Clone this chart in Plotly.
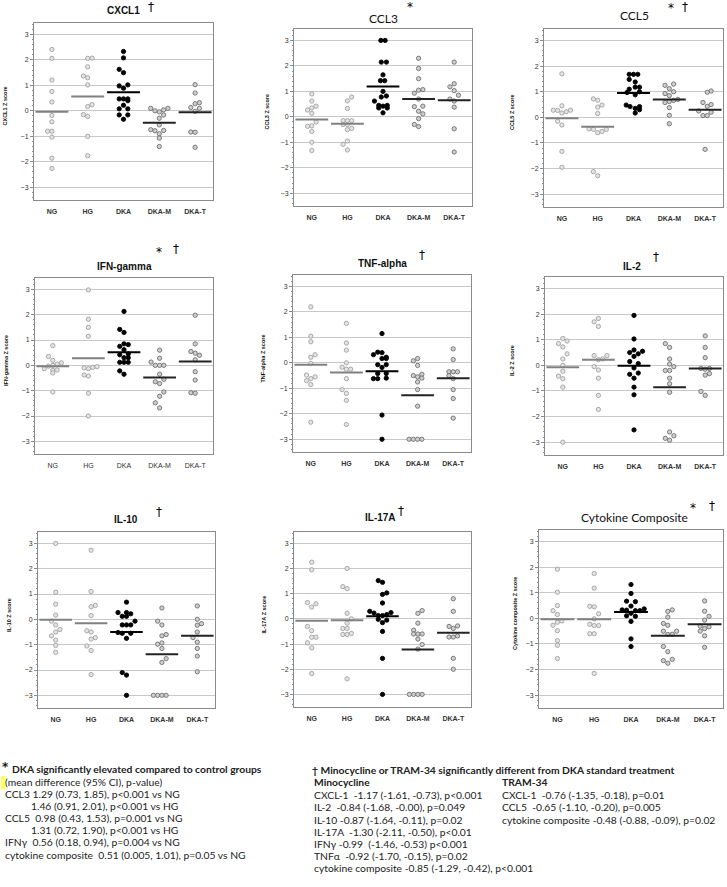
import plotly.graph_objects as go

W, H = 727, 887
groups = ["NG", "HG", "DKA", "DKA-M", "DKA-T"]
y_tick_vals = [-3, -2, -1, 0, 1, 2, 3]

# ---------------- data (Z scores) ----------------
cxcl1_vals = [
    [2.41, 2.06, 1.21, 0.76, 0.35, -0.18, -0.43, -0.80, -0.80, -1.03, -1.86, -2.26],
    [2.06, 2.07, 1.73, 1.37, 1.30, 1.02, 0.24, 0.17, -0.15, -0.22, -1.00, -1.76],
    [2.33, 2.08, 1.63, 1.50, 1.02, 0.98, 0.89, 0.47, 0.47, 0.47, 0.40, 0.22, 0.08, 0.08, -0.16, -0.16, -0.33],
    [0.10, 0.00, -0.04, 0.04, 0.10, -0.16, -0.29, -0.55, -0.74, -0.78, -0.90, -0.77, -1.07, -1.40],
    [1.03, 0.70, 0.32, 0.28, 0.13, 0.10, -0.02, -0.83, -0.84, -1.43],
]
cxcl1_slots = [
    [0, 0, 0, 0, 0, 0, 0, -1, 0, 0, 0, 0],
    [0, 1, 0, -1, 0, 0, 1, 0, -1, 0, 0, 0],
    [0, 0, -1, 0, 1, -1, 0, -1, 0, 1, 1, 0, -1, 1, -1, 1, 0],
    [-2, -1, 0, 1, 2, 1, 0, 0, -2, -1, 0, 1, 0, 0],
    [0, 0, 1, 0, -1, 1, 0, -1, 0, 0],
]
cxcl1_means = [-0.03, 0.56, 0.73, -0.47, -0.05]

ccl3_vals = [
    [0.90, 0.62, 0.42, 0.35, 0.27, 0.14, -0.20, -0.37, -0.35, -0.57, -1.00, -1.32],
    [0.78, 0.63, 0.33, -0.15, -0.15, -0.15, -0.30, -0.30, -0.45, -0.50, -0.95, -1.08, -1.30],
    [3.00, 3.00, 2.15, 2.15, 1.65, 1.42, 1.42, 1.00, 0.82, 0.78, 0.62, 0.45, 0.42, 0.35, 0.35, 0.45, 0.16],
    [2.30, 1.90, 1.50, 1.05, 1.07, 0.93, 0.70, 0.40, 0.42, 0.22, 0.12, -0.07, -0.30, -0.38],
    [2.15, 1.30, 1.18, 1.03, 0.85, 0.70, 0.62, 0.38, -0.47, -1.38],
]
ccl3_slots = [
    [0, 0, 1, 0, -1, 0, 1, -1, 0, 0, 0, 0],
    [1, 0, 0, -1, 0, 1, -1, 0, 1, 0, 0, -1, 0],
    [-0.5, 0.5, -0.4, 0.8, 0, -0.6, 0.4, 0, 0.8, -0.4, -2, -1, 0, -1, 1, 1, 0],
    [0, 0, 0, 0, 1, -1, 0, -1, 1, 0, 1, 0, -1, 0],
    [0, 0, -1, 0, 1, -1, 0, 0, 0, 0],
]
ccl3_means = [-0.10, -0.27, 1.19, 0.70, 0.65]

ccl5_vals = [
    [1.70, 0.45, 0.28, 0.27, 0.28, 0.22, 0.17, -0.15, -0.30, -1.33, -1.95],
    [0.72, 0.67, 0.48, 0.40, 0.15, -0.45, -0.47, -0.60, -0.55, -0.47, -2.12, -2.28],
    [1.68, 1.68, 1.68, 1.48, 1.38, 1.10, 1.18, 1.18, 1.00, 0.97, 0.88, 0.48, 0.42, 0.35, 0.42, 0.30, 0.17],
    [1.25, 1.30, 1.12, 1.00, 0.93, 0.85, 0.70, 0.66, 0.62, 0.58, 0.38, 0.08, -0.25],
    [1.03, 0.98, 0.58, 0.50, 0.43, 0.25, 0.20, 0.07, 0.07, -1.25],
]
ccl5_slots = [
    [0, 0, -2, -1, 2, 1, 0, -1, 0, 0, 0],
    [-1, 0, 1, 0, 0, -2, -1, 0, 1, 2, -1, 0],
    [-1, 0, 1, -1, 0.4, -1, 0.4, 1.4, 1.4, -1.5, 0.4, -1.7, -0.8, 0.4, 1.4, 1.4, 0.4],
    [-1, 1, 0, 1, -1, 0, 2, 1, 0, -1, 0, 0, 0],
    [1.4, 0.5, -0.5, 1.4, 0.5, -1.5, 1.4, -0.5, 0.5, 0],
]
ccl5_means = [-0.03, -0.37, 0.95, 0.70, 0.30]

ifng_vals = [
    [0.78, 0.35, 0.20, 0.10, 0.05, 0.00, -0.03, -0.13, -0.20, -0.30, -0.18, -1.05],
    [2.98, 1.82, 1.50, 1.15, -0.05, -0.08, -0.13, -0.10, -0.38, -0.42, -1.10, -2.00],
    [2.13, 1.42, 1.30, 0.85, 0.82, 0.75, 0.62, 0.45, 0.42, 0.30, 0.30, 0.12, 0.12, 0.12, -0.22, -0.35],
    [0.60, 0.28, 0.13, 0.00, 0.00, 0.00, -0.35, -0.65, -0.72, -0.55, -1.05, -1.22, -1.48, -1.68],
    [1.98, 0.85, 0.55, 0.48, 0.40, 0.22, -0.25, -0.58, -1.08, -1.10],
]
ifng_slots = [
    [0, -1, 0, 2, 1, 0, -1, -2, 0, 0, 1, 0],
    [0, 0, 0, 0, 2, 1, 0, -1, -1, 0, 0, 0],
    [0, -1, 0, 0, 1, -1, 0, 1, -1, 0, 1, -1, 0, 1, -1, 0],
    [0, 0, -2, -1, 0, 1, 0, -1, 0, 1, 1, 0, -1, 0],
    [0, 0, -1, 0, 1, 0, 0, 0, -1, 0],
]
ifng_means = [-0.03, 0.28, 0.52, -0.48, 0.15]

tnfa_vals = [
    [2.20, 1.05, 0.83, 0.32, 0.22, -0.02, -0.48, -0.55, -0.62, -0.70, -0.85, -2.33],
    [1.55, 0.78, 0.50, 0.00, -0.17, -0.25, -0.25, -0.62, -1.05, -1.20, -1.47, -2.42],
    [1.15, 0.42, 0.40, 0.32, 0.22, 0.17, 0.17, -0.07, -0.07, -0.18, -0.42, -0.42, -0.62, -0.62, -0.60, -2.05, -3.00],
    [0.17, 0.08, -0.10, -0.45, -0.50, -0.55, -0.60, -0.75, -1.05, -1.70, -3.00, -3.00, -3.00, -3.00],
    [0.55, 0.13, -0.35, -0.35, -0.35, -0.50, -0.62, -1.05, -1.40, -2.17],
]
tnfa_slots = [
    [0, 0, 0, 1, 0, 0, -1, 1, 0, -1, 0, 0],
    [0, 0, 0, 0, -1, 0, 1, 0, -1, 0, 0, 0],
    [0, -1, 0, -2, 1, 0, 1, -1, 1, 0, -1, 1, -2, -1, 1, 0, 0],
    [0, -1, 0, 1, -1, 0, 1, 0, 0, 0, -2, -1, 0, 1],
    [0, 0, -1, 0, 1, -1, 0, 0, 0, 0],
]
tnfa_means = [-0.07, -0.38, -0.33, -1.27, -0.60]

il2_vals = [
    [1.05, 0.95, 0.85, 0.72, 0.45, 0.25, 0.00, -0.23, -0.42, -0.52, -0.85, -3.00],
    [1.83, 1.70, 1.52, 0.38, 0.38, 0.22, 0.25, -0.05, -0.18, -0.50, -1.17, -1.72],
    [1.95, 1.03, 0.60, 0.55, 0.50, 0.45, 0.35, 0.15, 0.07, -0.10, -0.35, -0.30, -0.50, -0.85, -1.15, -2.52],
    [0.85, 0.70, 0.25, 0.05, -0.05, -0.20, -0.20, -0.50, -0.72, -1.05, -2.60, -2.75, -2.85, -2.92],
    [1.15, 0.70, 0.30, -0.12, -0.15, -0.12, -0.38, -0.32, -1.02, -1.17],
]
il2_slots = [
    [0, 1, -1, 0, 1, 0, 0, 0, -1, 0, 0, 0],
    [0, -1, 0, -1, 2, 0, 1, -1, 0, 0, 0, 0],
    [0, 0, 0, 2, -1, 1, 0, -1, 1, 0, -1, 1, 0, 0, 0, 0],
    [-1, 0, 0, 0, 1, -1, 0, 0, 0, 0, 0, 1, -1, 0],
    [0, 0, 0, -1, 0, 1, 0, 1, -1, 0],
]
il2_means = [-0.07, 0.22, -0.02, -0.85, -0.12]

il10_vals = [
    [3.00, 1.07, 0.60, 0.17, -0.07, -0.22, -0.40, -0.50, -0.65, -0.82, -1.03, -1.30],
    [2.73, 1.10, 0.55, 0.50, 0.15, -0.45, -0.50, -0.72, -0.78, -1.05, -1.23, -2.18],
    [0.68, 0.27, 0.27, 0.22, 0.12, 0.12, -0.07, -0.22, -0.22, -0.22, -0.52, -0.55, -0.55, -0.75, -2.10, -2.20, -3.00],
    [0.45, -0.07, -0.22, -0.60, -0.65, -0.93, -0.98, -1.15, -1.55, -1.70, -3.00, -3.00, -3.00, -3.00],
    [0.53, 0.00, -0.17, -0.23, -0.50, -0.72, -0.90, -1.15, -1.45, -2.07],
]
il10_slots = [
    [0, 0, 0, 0, -1, 0, 1, 0, -1, 0, 0, 0],
    [0, 0, 1, 0, 0, -1, 0, 1, 0, -1, 0, 0],
    [0, -2, 0, 1, -1, 0, 2, -1, 0, 1, -2, -1, 1, 0, -1, 0, 0],
    [0, -1, 0, 1, 0, 0, -1, 0, 1, 0, -2, -1, 0, 1],
    [0, 0, 1, 0, 0, -1, 0, 0, 0, 0],
]
il10_means = [-0.02, -0.15, -0.50, -1.38, -0.65]

il17a_vals = [
    [2.25, 1.95, 0.65, 0.60, 0.47, -0.30, -0.47, -0.73, -0.73, -0.95, -1.15, -2.17],
    [2.00, 1.28, 1.20, 0.22, 0.00, -0.17, -0.38, -0.38, -0.62, -0.62, -0.58, -2.38],
    [1.52, 1.45, 1.03, 0.97, 0.63, 0.30, 0.23, 0.25, 0.13, 0.13, 0.17, -0.02, -0.05, -0.15, -0.50, -1.57, -3.00],
    [0.33, 0.22, -0.17, -0.45, -0.60, -0.60, -0.60, -0.80, -1.02, -1.20, -3.00, -3.00, -3.00, -3.00],
    [0.80, 0.30, -0.28, -0.30, -0.38, -0.72, -0.72, -0.68, -1.57, -2.00],
]
il17a_slots = [
    [0, 0, -1, 1, 0, -1, 0, 0, 1, -1, 0, 0],
    [0, -1, 0, 0, 1, 0, -1, 0, -1, 0, 1, 0],
    [-1, 0, 1, 0, 0, -3, -2, 2, -1, 0, 1, -1, 1, 0, 0, 0, 0],
    [1, 0, 0, -1, -1, 0, 1, 0, 1, 0, -2, -1, 0, 1],
    [0, 0, 1, -1, 0, -1, 0, 1, 0, 0],
]
il17a_means = [-0.07, -0.05, 0.10, -1.22, -0.55]

comp_vals = [
    [1.92, 1.02, 0.50, 0.30, 0.15, -0.10, -0.15, -0.27, -0.48, -0.87, -1.05, -1.57],
    [1.75, 1.18, 0.47, 0.45, 0.18, -0.02, -0.23, -0.28, -0.28, -0.60, -0.60, -2.15],
    [1.32, 0.97, 0.67, 0.65, 0.48, 0.37, 0.33, 0.32, 0.30, 0.30, 0.20, 0.10, 0.08, -0.12, -0.80, -1.10],
    [0.33, 0.27, 0.05, -0.20, -0.27, -0.50, -0.50, -0.62, -0.63, -1.10, -1.30, -1.65, -1.60, -1.75],
    [0.68, 0.28, 0.08, -0.07, -0.30, -0.33, -0.40, -0.50, -0.68, -1.13],
]
comp_slots = [
    [0, 0, 0, -1, 0, 1, 0, -1, 0, 0, 0, 0],
    [0, 0, -1, 0, 1, 0, -1, 0, 1, -1, 0, 0],
    [0, 0, -1, 1, 0, 3, -2, -1, 1, 2, 0, -1, 1, 0, 0, 0],
    [1, 0, 0, -1, 0, -1, 2, 1, 0, -1, 0, -1, 1, 0],
    [0, 0, 1, 0, -1, 1, 0, -1, 0, 0],
]
comp_means = [-0.03, -0.03, 0.25, -0.68, -0.23]

panel_titles = ["CXCL1", "CCL3", "CCL5", "IFN-gamma", "TNF-alpha", "IL-2", "IL-10", "IL-17A", "Cytokine Composite"]
panel_ytitles = ["CXCL1 Z score", "CCL3 Z score", "CCL5 Z score", "IFN-gamma Z score", "TNF-alpha Z score",
                 "IL-2 Z score", "IL-10 Z score", "IL-17A Z score", "Cytokine composite Z score"]
panel_vals = [cxcl1_vals, ccl3_vals, ccl5_vals, ifng_vals, tnfa_vals, il2_vals, il10_vals, il17a_vals, comp_vals]
panel_slots = [cxcl1_slots, ccl3_slots, ccl5_slots, ifng_slots, tnfa_slots, il2_slots, il10_slots, il17a_slots, comp_slots]
panel_means = [cxcl1_means, ccl3_means, ccl5_means, ifng_means, tnfa_means, il2_means, il10_means, il17a_means, comp_means]

# ---------------- layout geometry (pixels) ----------------
boxes = [(34, 23, 213, 200), (294, 29, 472, 206), (544, 29, 723, 207),
         (35, 278, 213, 454), (293, 275, 471, 452), (545, 277, 723, 455),
         (38, 532, 215, 708), (294, 532, 471, 707), (539, 530, 723, 708)]
title_pos = [(123, 10), (383, 18), (634, 16), (124, 266), (382, 263), (632, 266), (126, 519), (380, 517), (634, 517)]
title_fonts = ["Liberation Sans", "Lato", "Lato", "Liberation Sans", "Liberation Sans",
               "Liberation Sans", "Liberation Sans", "Liberation Sans", "Lato"]
title_bold = [True, False, False, True, True, True, True, True, False]
marks = [[("†", 151, 7)], [("*", 410, 7)], [("*", 671, 8), ("†", 685, 7)],
         [("*", 159, 252), ("†", 176, 249)], [("†", 422, 255)], [("†", 656, 257)],
         [("†", 159, 512)], [("†", 401, 511)], [("*", 693, 508), ("†", 712, 506)]]
ytitle_x = [5, 267, 512, 6, 262, 512, 9, 263, 515]

SLOT = 0.12
fill_cols = ["#e4e4e4", "#e4e4e4", "#000000", "#cfcfcf", "#cfcfcf"]
line_cols = ["#a0a0a0", "#a0a0a0", "#000000", "#6e6e6e", "#6e6e6e"]
mean_cols = ["#808080", "#808080", "#000000", "#222222", "#222222"]


def px(x):
    return x / W


def py(y):
    return 1 - y / H


fig = go.Figure()
annotations = []
for i in range(9):
    n = i + 1
    xa = "x" if n == 1 else f"x{n}"
    ya = "y" if n == 1 else f"y{n}"
    for g in range(5):
        xs = [g + 1 + s * SLOT for s in panel_slots[i][g]]
        fig.add_trace(go.Scatter(
            x=xs, y=panel_vals[i][g], mode="markers", xaxis=xa, yaxis=ya,
            marker=dict(size=4.3, color=fill_cols[g], line=dict(color=line_cols[g], width=0.9)),
            showlegend=False, hoverinfo="skip"))
    for g in range(5):
        fig.add_trace(go.Scatter(
            x=[g + 1 - 0.46, g + 1 + 0.46], y=[panel_means[i][g]] * 2, mode="lines",
            xaxis=xa, yaxis=ya, line=dict(color=mean_cols[g], width=2),
            showlegend=False, hoverinfo="skip"))
    x0, y0, x1, y1 = boxes[i]
    bold_x = i != 3
    fig.layout[("xaxis" if n == 1 else f"xaxis{n}")] = dict(
        domain=[px(x0), px(x1)], range=[0.5, 5.5], anchor=ya,
        tickvals=[1, 2, 3, 4, 5],
        ticktext=[(f"<b>{g}</b>" if bold_x else g) for g in groups],
        tickfont=dict(family="Liberation Sans", size=7, color="#333333"),
        showgrid=False, zeroline=False, showline=True, mirror=True,
        linecolor="#8a8a8a", linewidth=1, ticks="", ticklabelstandoff=5)
    fig.layout[("yaxis" if n == 1 else f"yaxis{n}")] = dict(
        domain=[py(y1), py(y0)], range=[-3.5, 3.45], anchor=xa,
        tickvals=y_tick_vals, tickfont=dict(family="Liberation Sans", size=7, color="#333333"),
        showgrid=True, gridcolor="#c8c8c8", gridwidth=1, zeroline=False,
        showline=True, mirror=True, linecolor="#8a8a8a", linewidth=1,
        ticks="outside", ticklen=3, tickcolor="#8a8a8a",
        minor=dict(dtick=0.2, ticks="outside", ticklen=1.5, tickcolor="#8a8a8a", showgrid=False))
    tx, ty = title_pos[i]
    ttl = f"<b>{panel_titles[i]}</b>" if title_bold[i] else panel_titles[i]
    annotations.append(dict(text=ttl, x=px(tx), y=py(ty), xref="paper", yref="paper",
                            xanchor="center", yanchor="middle", showarrow=False,
                            font=dict(family=title_fonts[i], size=(10 if title_bold[i] else 12), color="#111111")))
    for (m, mx, my) in marks[i]:
        annotations.append(dict(text=m, x=px(mx), y=py(my), xref="paper", yref="paper",
                                xanchor="center", yanchor="middle", showarrow=False,
                                font=dict(family="DejaVu Sans", size=12, color="#000000")))
    annotations.append(dict(text=f"<b>{panel_ytitles[i]}</b>", x=px(ytitle_x[i]), y=py((y0 + y1) / 2 - 5),
                            xref="paper", yref="paper", xanchor="center", yanchor="middle",
                            textangle=-90, showarrow=False,
                            font=dict(family="Liberation Sans", size=5.5, color="#111111")))

# ---------------- footnote text ----------------
NB = "\u00a0"
left_lines = [
    (10, 769, "<b>DKA significantly elevated compared to control groups</b>"),
    (3, 782, "(mean difference (95% CI), p-value)"),
    (3, 794, "CCL3 1.29 (0.73, 1.85), p<0.001 vs NG"),
    (29, 806, "1.46 (0.91, 2.01), p<0.001 vs HG"),
    (3, 818, f"CCL5{NB}{NB}0.98 (0.43, 1.53), p=0.001 vs NG"),
    (29, 830, "1.31 (0.72, 1.90), p<0.001 vs HG"),
    (3, 842, f"IFNγ{NB}{NB}0.56 (0.18, 0.94), p=0.004 vs NG"),
    (3, 855, f"cytokine composite{NB}{NB}0.51 (0.005, 1.01), p=0.05 vs NG"),
]
RX = 312
TX = 500
right_lines = [
    (RX - 2, 770, "<b>† Minocycline or TRAM-34 significantly different from DKA standard treatment</b>"),
    (RX, 782, "<b>Minocycline</b>"),
    (TX, 782, "<b>TRAM-34</b>"),
    (RX, 795, f"CXCL-1{NB}{NB}-1.17 (-1.61, -0.73), p<0.001"),
    (RX, 807, f"IL-2{NB}{NB}-0.84 (-1.68, -0.00), p=0.049"),
    (RX, 820, "IL-10 -0.87 (-1.64, -0.11), p=0.02"),
    (RX, 832, f"IL-17A{NB}{NB}-1.30 (-2.11, -0.50), p<0.01"),
    (RX, 844, f"IFNγ{NB}-0.99{NB}{NB}(-1.46, -0.53) p<0.001"),
    (RX, 856, f"TNFα{NB}{NB}-0.92 (-1.70, -0.15), p=0.02"),
    (RX, 868, "cytokine composite -0.85 (-1.29, -0.42), p<0.001"),
    (TX, 795, f"CXCL-1{NB}{NB}-0.76 (-1.35, -0.18), p=0.01"),
    (TX, 807, f"CCL5{NB}{NB}-0.65 (-1.10, -0.20), p=0.005"),
    (TX, 820, "cytokine composite -0.48 (-0.88, -0.09), p=0.02"),
]
for (x, y, t) in left_lines + right_lines:
    annotations.append(dict(text=t, x=px(x), y=py(y), xref="paper", yref="paper", xanchor="left",
                            yanchor="middle", showarrow=False,
                            font=dict(family="Lato", size=10.3, color="#222222")))
# leading asterisk of the left footnote header
annotations.append(dict(text="<b>*</b>", x=px(6), y=py(767), xref="paper", yref="paper", xanchor="center",
                        yanchor="middle", showarrow=False,
                        font=dict(family="DejaVu Sans", size=12, color="#222222")))

fig.update_layout(
    width=W, height=H, margin=dict(l=0, r=0, t=0, b=0),
    paper_bgcolor="white", plot_bgcolor="white",
    annotations=annotations,
    shapes=[dict(type="rect", xref="paper", yref="paper", x0=px(1), x1=px(5.5), y0=py(789), y1=py(776),
                 fillcolor="#ffff66", line=dict(width=0), layer="below")],
)

fig.write_html("out.html", config={"displayModeBar": False},
               post_script="document.body.style.margin='0';document.body.style.overflow='hidden';")
